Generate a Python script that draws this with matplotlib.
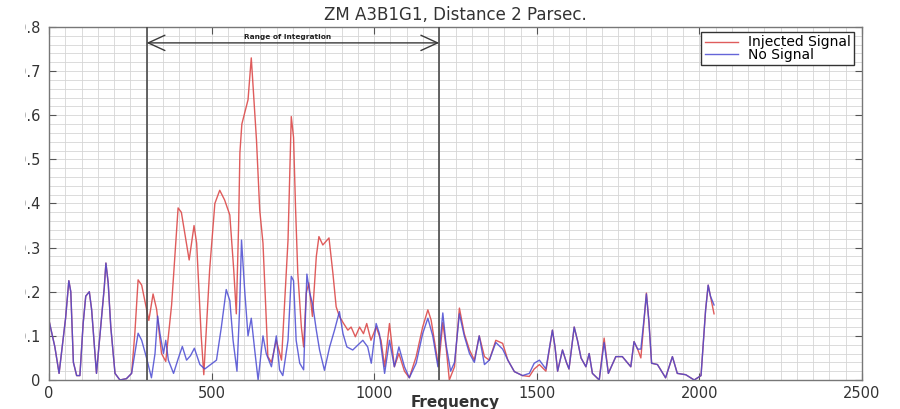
import matplotlib
matplotlib.use("Agg")
import matplotlib.pyplot as plt
from matplotlib.ticker import MultipleLocator
from matplotlib.patches import Rectangle

# Spectrum with injected signal
freq_injected = [0, 18, 31, 51, 61, 67, 75, 85, 95, 105, 113, 124, 131, 146, 159, 170, 175, 182,
                 190, 203, 218, 238, 254, 264, 274, 285, 300, 307, 320, 331, 346, 359, 377, 397,
                 407, 431, 446, 454, 468, 476, 494, 510, 525, 540, 556, 568, 576, 583, 587, 593,
                 612, 622, 629, 638, 648, 658, 668, 673, 684, 699, 715, 735, 745, 752, 758, 765,
                 776, 783, 791, 799, 810, 822, 830, 842, 861, 873, 883, 893, 906, 919, 929, 942,
                 955, 967, 977, 990, 1006, 1021, 1032, 1047, 1062, 1076, 1093, 1108, 1129, 1149,
                 1165, 1175, 1185, 1198, 1211, 1221, 1231, 1247, 1262, 1277, 1293, 1308, 1323,
                 1339, 1354, 1374, 1395, 1411, 1431, 1456, 1477, 1492, 1508, 1528, 1548, 1556,
                 1564, 1579, 1591, 1599, 1615, 1625, 1636, 1651, 1661, 1671, 1692, 1707, 1720,
                 1743, 1763, 1789, 1799, 1810, 1820, 1830, 1837, 1845, 1853, 1871, 1896, 1917,
                 1932, 1958, 1984, 2005, 2019, 2027, 2034, 2045]
injected = [0.135, 0.075, 0.015, 0.14, 0.225, 0.20, 0.04, 0.01, 0.01, 0.128, 0.19, 0.20, 0.16,
            0.015, 0.12, 0.21, 0.265, 0.22, 0.12, 0.015, 0.0, 0.003, 0.015, 0.106, 0.227, 0.215,
            0.16, 0.135, 0.195, 0.16, 0.06, 0.042, 0.17, 0.39, 0.38, 0.272, 0.35, 0.31, 0.10,
            0.012, 0.25, 0.40, 0.43, 0.408, 0.374, 0.25, 0.15, 0.35, 0.515, 0.58, 0.635, 0.73,
            0.65, 0.544, 0.385, 0.31, 0.136, 0.053, 0.04, 0.09, 0.045, 0.317, 0.597, 0.55, 0.393,
            0.243, 0.12, 0.075, 0.197, 0.22, 0.144, 0.28, 0.325, 0.306, 0.322, 0.242, 0.166,
            0.144, 0.128, 0.113, 0.12, 0.098, 0.12, 0.105, 0.128, 0.09, 0.12, 0.09, 0.03, 0.128,
            0.03, 0.06, 0.02, 0.005, 0.053, 0.12, 0.159, 0.136, 0.09, 0.03, 0.13, 0.075, 0.0,
            0.03, 0.163, 0.105, 0.068, 0.045, 0.10, 0.053, 0.045, 0.09, 0.083, 0.045, 0.019,
            0.01, 0.008, 0.025, 0.035, 0.02, 0.113, 0.075, 0.02, 0.068, 0.04, 0.025, 0.12, 0.09,
            0.05, 0.03, 0.06, 0.015, 0.0, 0.095, 0.015, 0.053, 0.053, 0.03, 0.087, 0.07, 0.05,
            0.136, 0.197, 0.13, 0.038, 0.035, 0.005, 0.053, 0.015, 0.012, 0.0, 0.01, 0.158,
            0.215, 0.19, 0.15]

# Spectrum without signal
freq_none = [0, 18, 31, 51, 61, 67, 75, 85, 95, 105, 113, 124, 131, 146, 159, 170, 175, 182, 190,
             203, 218, 238, 254, 264, 274, 285, 300, 315, 326, 334, 341, 352, 359, 367, 383, 398,
             410, 423, 435, 447, 464, 479, 497, 515, 530, 545, 556, 566, 578, 586, 592, 602, 612,
             622, 633, 643, 658, 668, 684, 699, 709, 719, 735, 745, 752, 760, 771, 783, 793, 801,
             811, 822, 832, 847, 863, 878, 893, 904, 916, 934, 944, 965, 980, 991, 1006, 1016,
             1032, 1047, 1062, 1076, 1093, 1108, 1129, 1149, 1165, 1180, 1196, 1211, 1221, 1235,
             1247, 1262, 1277, 1293, 1308, 1323, 1339, 1354, 1374, 1395, 1411, 1431, 1456, 1477,
             1492, 1508, 1528, 1548, 1556, 1564, 1579, 1591, 1599, 1615, 1625, 1636, 1651, 1661,
             1671, 1692, 1707, 1720, 1743, 1763, 1789, 1799, 1810, 1820, 1830, 1837, 1845, 1853,
             1871, 1896, 1917, 1932, 1958, 1984, 2005, 2019, 2027, 2034, 2045]
no_signal = [0.135, 0.075, 0.015, 0.14, 0.225, 0.20, 0.04, 0.01, 0.01, 0.128, 0.19, 0.20, 0.16,
             0.015, 0.12, 0.21, 0.265, 0.22, 0.12, 0.015, 0.0, 0.003, 0.015, 0.06, 0.106, 0.09,
             0.05, 0.005, 0.06, 0.145, 0.106, 0.06, 0.09, 0.045, 0.015, 0.05, 0.076, 0.045, 0.055,
             0.072, 0.035, 0.025, 0.035, 0.045, 0.12, 0.205, 0.18, 0.09, 0.02, 0.16, 0.317, 0.20,
             0.10, 0.14, 0.065, 0.0, 0.10, 0.06, 0.03, 0.10, 0.023, 0.01, 0.09, 0.235, 0.225,
             0.09, 0.038, 0.023, 0.24, 0.20, 0.17, 0.113, 0.068, 0.022, 0.075, 0.113, 0.155,
             0.105, 0.075, 0.068, 0.075, 0.09, 0.075, 0.038, 0.128, 0.105, 0.015, 0.09, 0.03,
             0.075, 0.03, 0.005, 0.038, 0.105, 0.14, 0.10, 0.03, 0.152, 0.08, 0.02, 0.04, 0.15,
             0.10, 0.06, 0.04, 0.10, 0.035, 0.045, 0.085, 0.07, 0.045, 0.019, 0.01, 0.015, 0.038,
             0.045, 0.025, 0.113, 0.075, 0.02, 0.068, 0.04, 0.025, 0.12, 0.09, 0.05, 0.03, 0.06,
             0.015, 0.0, 0.085, 0.015, 0.053, 0.053, 0.03, 0.087, 0.07, 0.07, 0.14, 0.195, 0.13,
             0.038, 0.035, 0.005, 0.053, 0.015, 0.012, 0.0, 0.01, 0.158, 0.215, 0.19, 0.17]

x_ticks = [0, 500, 1000, 1500, 2000, 2500]
y_ticks = [0, 0.1, 0.2, 0.3, 0.4, 0.5, 0.6, 0.7, 0.8]
band_low, band_high = 300, 1200

fig = plt.figure(figsize=(9, 4.09), dpi=100)
ax = fig.add_axes([49 / 900, 1 - 380 / 409, 813 / 900, 353 / 409])

ax.plot(freq_injected, injected, color="#dc4a4a", lw=1.0, alpha=0.9, label="Injected Signal")
ax.plot(freq_none, no_signal, color="#4a4ad2", lw=1.0, alpha=0.85, label="No Signal")

# integration band
for xv in (band_low, band_high):
    ax.axvline(xv, color="#4a4a4a", lw=1.2, zorder=3)
ax.annotate("", xy=(band_low, 0.764), xytext=(band_high, 0.764),
            arrowprops=dict(arrowstyle="<->, head_length=1.2, head_width=0.55",
                            color="#3a3a3a", lw=1.0, shrinkA=0, shrinkB=0))
ax.text(735, 0.778, "Range of Integration", ha="center", va="center",
        fontsize=5.3, fontweight="bold", color="#222222")

ax.set_xlim(0, 2500)
ax.set_ylim(0, 0.8)
ax.set_xticks(x_ticks)
ax.set_yticks(y_ticks)
ax.set_yticklabels([f"{v:g}" for v in y_ticks])
ax.xaxis.set_minor_locator(MultipleLocator(50))
ax.yaxis.set_minor_locator(MultipleLocator(0.02))
ax.grid(which="both", color="#d6d6d6", lw=0.6)
ax.set_axisbelow(True)
ax.tick_params(which="major", direction="in", length=5, width=0.8, color="#555555",
               top=True, right=True, labelsize=10.5, labelcolor="#333333")
ax.tick_params(axis="x", which="major", pad=4)
ax.tick_params(axis="y", which="major", pad=6)
ax.tick_params(which="minor", length=0)
for s in ax.spines.values():
    s.set_color("#777777")
    s.set_linewidth(1.0)

ax.set_title("ZM A3B1G1, Distance 2 Parsec.", fontsize=12, color="#333333", pad=5)
ax.set_xlabel("Frequency", fontsize=11, fontweight="bold", color="#333333")
ax.xaxis.set_label_coords(0.5, -0.042)

ax.legend(loc="upper right", bbox_to_anchor=(854 / 900, 1 - 32 / 409),
          bbox_transform=fig.transFigure, borderaxespad=0, fontsize=10,
          frameon=True, fancybox=False, edgecolor="#333333", framealpha=1,
          borderpad=0.25, labelspacing=-0.12, handlelength=2.4, handletextpad=0.7)

# blank strip along the left margin
fig.patches.append(Rectangle((0, 0), 25 / 900, 1, transform=fig.transFigure,
                             facecolor="white", edgecolor="none", zorder=10))

fig.savefig("out.png", dpi=100)
